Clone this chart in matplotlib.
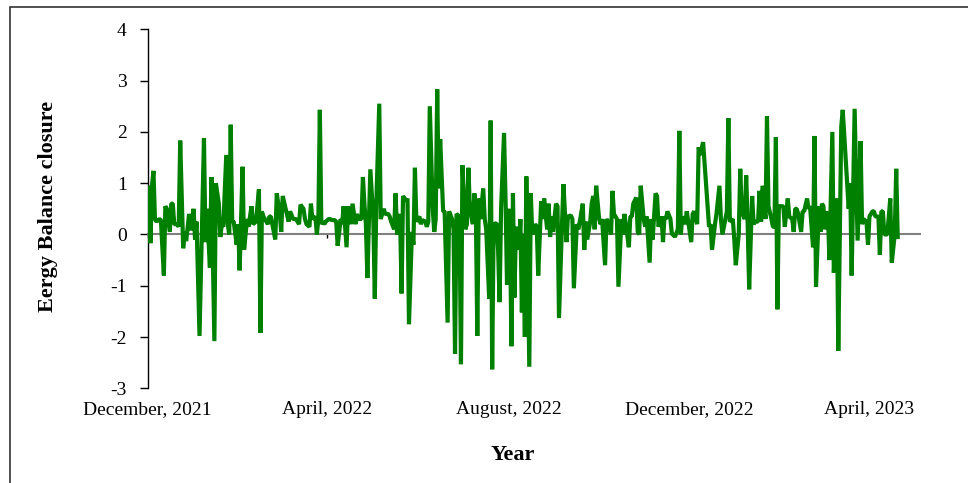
import pandas as pd
import matplotlib.pyplot as plt
import matplotlib.dates as mdates
from matplotlib.patches import Rectangle

plt.rcParams['font.family'] = ['Liberation Serif', 'DejaVu Serif']
plt.rcParams['axes.unicode_minus'] = False

# daily energy balance closure (days since 1 Dec 2021)
start = pd.Timestamp('2021-12-01')

day_offset = [
    0, 1, 2, 3, 4, 5, 6, 8, 9, 11, 12, 13, 15, 16, 17, 18, 20, 21, 22, 24,
    25, 26, 28, 29, 31, 32, 33, 35, 38, 39, 40, 42, 43, 45, 46, 48, 49, 50, 51, 53,
    54, 55, 56, 57, 58, 60, 61, 62, 64, 65, 67, 68, 70, 71, 73, 75, 76, 77, 78, 80,
    81, 82, 83, 85,
    86, 87, 89, 90, 91, 93, 95, 96, 98, 100, 101, 102, 103, 105, 106, 107, 109, 110, 111, 113,
    114, 115, 116, 117, 118, 119, 120, 122, 123, 124, 126, 127, 128, 130, 131, 132, 134, 135, 137, 138,
    140, 141, 142, 144, 145, 146, 147, 148, 149, 150, 152, 153, 154, 156, 157, 159, 160, 162, 163, 164,
    166, 167, 168, 170, 171, 172,
    174, 175, 176, 178, 179, 180, 181, 183, 184, 185, 187, 188, 189, 190, 192, 193, 194, 195, 196, 197,
    199, 200, 202, 203, 205, 206, 207, 208, 210, 211, 212, 214, 215, 216, 217, 219, 220, 221, 222, 223,
    224, 226, 227, 228, 230, 231, 232, 233, 235, 236, 237, 238, 240, 241, 242, 243, 244, 245, 246, 247,
    248, 250, 251, 252, 253, 254, 255, 257, 258, 259,
    261, 262, 263, 265, 266, 267, 269, 270, 271, 272, 273, 275, 276, 277, 279, 280, 282, 283, 285, 286,
    287, 289, 290, 291, 293, 294, 295, 296, 298, 299, 300, 301, 302, 304, 305, 306, 308, 309, 310, 312,
    313, 314, 316, 317, 319, 320, 321, 322, 324, 325, 326, 327, 329, 330, 331, 332, 334, 335, 336, 338,
    339, 340, 342, 343, 344, 346, 347, 348,
    349, 350, 352, 353, 354, 355, 357, 358, 359, 360, 362, 363, 364, 366, 367, 368, 370, 371, 372, 374,
    378, 379, 380, 382, 383, 385, 386, 387, 389, 390, 391, 392, 394, 395, 396, 398, 399, 400, 402, 403,
    404, 405, 407, 408, 409, 411, 412, 413, 414, 416, 417, 418, 420, 421, 422, 423, 424, 425, 427, 428,
    429, 431, 432, 434, 435,
    436, 437, 438, 440, 441, 442, 444, 445, 446, 448, 449, 450, 452, 453, 454, 455, 456, 458, 459, 461,
    462, 464, 465, 467, 468, 472, 473, 474, 476, 478, 480, 481, 482, 484, 485, 486, 488, 489, 490, 492,
    493, 494, 495, 496, 498, 499, 500, 501, 503, 504, 505,
]

closure = [
    0.1, 0.95, -0.17, 0.95, 1.24, 0.3, 0.25, 0.3, 0.28, -0.8, 0.55, 0.5, 0.05, 0.6, 0.6, 0.2, 0.2, 0.15, 1.83, -0.27,
    0.05, -0.13, 0.4, 0.08, 0.5, -0.1, 0.25, -1.98, 1.88, -0.15, 0.5, -0.65, 1.12, -2.08, 1.0, 0.6, -0.05, 0.2, 0.15, 1.55,
    0.2, 0.0, 2.14, 0.25, 0.25, -0.2, 0.2, -0.7, 1.32, -0.3, 0.3, 0.15, 0.55, 0.2, 0.25, 0.88, -1.92, 0.45, 0.35, 0.25,
    0.2, 0.35, 0.35, 0.05,
    -0.1, 0.8, 0.4, 0.05, 0.75, 0.5, 0.25, 0.45, 0.3, 0.3, 0.25, 0.2, 0.58, 0.5, 0.3, 0.2, 0.15, 0.6, 0.3, 0.35,
    0.0, 0.3, 2.43, 0.2, 0.25, 0.2, 0.25, 0.3, 0.3, 0.28, 0.28, 0.25, -0.22, 0.3, 0.2, 0.55, -0.25, 0.55, 0.2, 0.6,
    0.2, 0.4, 0.3, 0.3, 1.12, 0.6, 0.2, -0.85, 0.2, 1.27, 0.3, -1.25, 0.6, 2.55, 0.3, 0.5, 0.4, 0.4, 0.35, 0.25,
    0.1, 0.8, 0.0, 0.4, -1.15, 0.75,
    0.65, 0.7, -1.75, 0.05, -0.2, 1.3, 0.25, 0.35, 0.2, 0.28, 0.25, 0.15, 0.25, 2.5, 0.5, 0.05, 0.3, 2.83, 0.9, 1.86,
    0.45, 0.45, -1.72, 0.45, 0.3, 0.1, -2.33, 0.4, 0.35, -2.53, 1.35, 0.1, 0.2, 1.3, 0.5, 0.2, 0.8, 0.5, -1.98, 0.7,
    0.3, 0.9, 0.3, 0.1, -1.25, 2.22, -2.63, 0.2, 0.22, -0.3, -1.32, 0.5, 1.98, 0.7, -0.98, 0.5, 0.0, -2.18, 0.8, -1.23,
    0.15, -0.3, 0.3, -1.52, 0.0, -2.0, 1.13, -2.58, 0.8, 0.0,
    0.2, 0.15, -0.8, 0.65, 0.3, 0.7, 0.1, 0.6, -0.05, 0.35, 0.05, 0.6, 0.55, -1.63, 0.2, 0.98, -0.15, 0.35, 0.37, 0.3,
    -1.05, 0.2, 0.1, 0.25, 0.6, -0.3, 0.25, -0.1, 0.25, 0.6, 0.75, 0.1, 0.95, 0.3, 0.2, 0.3, -0.6, 0.3, 0.25, 0.0,
    0.85, 0.4, 0.3, -1.02, 0.3, 0.0, 0.4, 0.2, -0.25, 0.35, 0.35, 0.6, 0.72, 0.05, 0.0, 0.95, 0.3, 0.15, 0.35, -0.55,
    0.3, -0.1, 0.8, 0.75, 0.15, 0.35, -0.15, 0.35,
    0.3, 0.45, 0.3, 0.0, 0.0, -0.05, 0.1, 2.02, 0.0, 0.35, 0.2, 0.45, 0.25, -0.15, 0.4, 0.45, 0.2, 1.7, 1.55, 1.8,
    0.15, 0.2, -0.3, 0.2, 0.4, 0.95, 0.3, 0.0, 0.3, 0.45, 2.27, 0.25, 0.3, -0.1, -0.6, 0.0, 1.28, 0.45, 0.3, 1.15,
    0.2, -1.07, 0.75, 0.2, 0.25, 0.25, 0.85, 0.25, 0.95, 0.3, 2.3, 0.55, 0.3, 0.15, 0.15, 1.9, -1.46, 0.55, 0.55, 0.55,
    0.15, 0.7, 0.35, 0.3, 0.05,
    0.5, 0.5, 0.4, 0.05, 0.45, 0.45, 0.7, 0.5, 0.55, -0.25, 1.92, -1.02, 0.55, 0.05, 0.6, 0.55, 0.1, 0.45, -0.5, 2.0,
    -0.75, 0.7, -2.27, 2.1, 2.43, 0.5, 1.0, -0.8, 2.45, -0.12, 1.82, 0.2, 0.3, 0.25, -0.2, 0.35, 0.45, 0.45, 0.35, 0.35,
    -0.4, 0.45, 0.45, 0.0, 0.0, 0.35, 0.7, -0.55, 0.0, 1.28, -0.05,
]

tick_dates = ['2021-12-01', '2022-04-01', '2022-08-01', '2022-12-01', '2023-04-01']
tick_labels = ['December, 2021', 'April, 2022', 'August, 2022', 'December, 2022', 'April, 2023']

dates = start + pd.to_timedelta(day_offset, unit='D')
tick_pos = mdates.date2num(pd.to_datetime(tick_dates))

fig = plt.figure(figsize=(9.68, 4.83), dpi=100)
ax = fig.add_axes([0.1524, 0.1961, 0.798, 0.7432])

ax.plot(dates, closure, color='#008000', linewidth=3, solid_joinstyle='bevel', zorder=3)

ax.set_xlim(start, start + pd.Timedelta(days=520))
ax.set_ylim(-3, 4)
ax.set_yticks(range(-3, 5))

# x axis drawn on the zero line, labels kept at the bottom
ax.spines['top'].set_visible(False)
ax.spines['right'].set_visible(False)
ax.spines['bottom'].set_position(('data', 0))
ax.spines['bottom'].set_color('#808080')
ax.spines['bottom'].set_linewidth(1.5)
ax.spines['bottom'].set_zorder(2)
ax.spines['left'].set_linewidth(1.0)
ax.set_xticks(tick_pos)
ax.tick_params(axis='x', direction='out', length=3, width=1, color='black', labelbottom=False)
ax.tick_params(axis='y', direction='out', length=6, width=1, pad=9, labelsize=14)

for pos, lab in zip(tick_pos, tick_labels):
    ax.text(pos, -0.035, lab, transform=ax.get_xaxis_transform(),
            ha='center', va='top', fontsize=14)

fig.text(48 / 968, 1 - 206 / 483, 'Eergy Balance closure', rotation=90,
         ha='center', va='center', fontsize=16, fontweight='bold')
fig.text(513 / 968, 1 - 455 / 483, 'Year', ha='center', va='center',
         fontsize=16, fontweight='bold')

# outer frame (only left and top edges show in the picture)
fig.add_artist(Rectangle((10 / 968, -0.5), 2, 1 - 7 / 483 + 0.5, transform=fig.transFigure,
                         fill=False, edgecolor='#333333', linewidth=1.2))

plt.savefig('out.png', dpi=100)
